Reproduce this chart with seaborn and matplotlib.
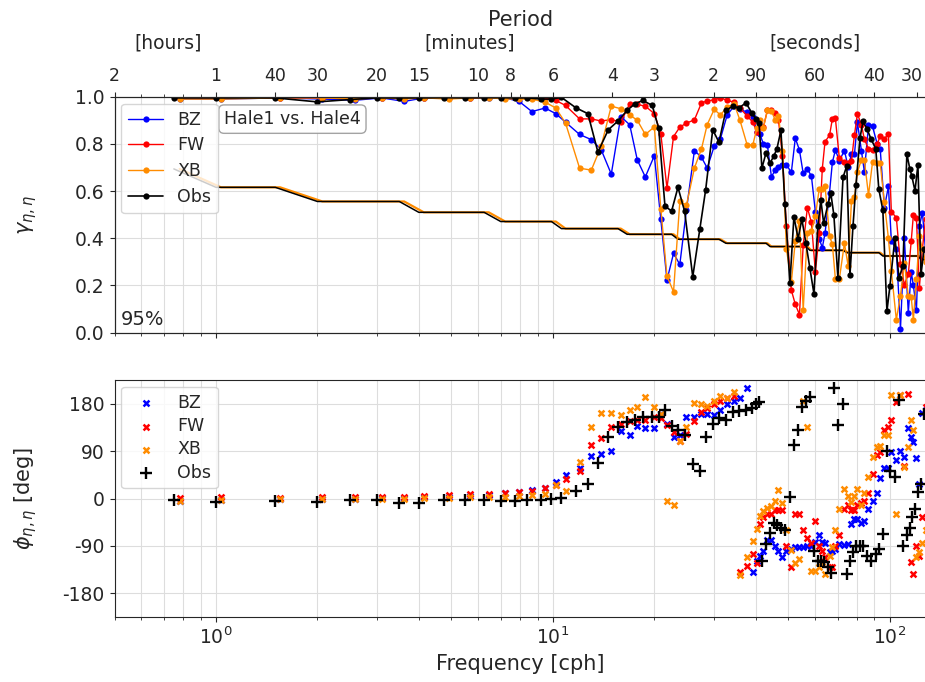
import matplotlib
matplotlib.use("Agg")
import matplotlib.pyplot as plt
from matplotlib.ticker import NullFormatter
from matplotlib.transforms import ScaledTranslation
import seaborn as sns
import numpy as np

# --- frequencies [cph] (obs and models sit on slightly different grids) ---
freq_obs = [0.75, 1.0, 1.5, 2.0, 2.5, 3.0, 3.5, 4.0, 4.75, 5.5, 6.25, 7.0, 7.7, 8.4, 9.2,
            9.9, 10.6, 11.7, 12.7, 13.6, 14.6, 15.6, 16.6, 17.5, 18.5, 19.7, 20.6, 21.5, 22.5,
            23.5, 24.6, 26.0, 27.3, 28.4, 29.8, 31.1, 32.6, 34.2, 35.6, 37.4, 38.9, 40.0, 40.9,
            41.7, 42.9, 44.1, 45.3, 46.2, 47.5, 48.8, 50.5, 51.9, 53.4, 54.8, 56.3, 57.9, 59.5,
            61.1, 62.4, 63.6, 65.5, 66.8, 68.2, 70.1, 72.6, 74.5, 76.1, 77.7, 79.3, 81.5, 83.2,
            85.5, 87.9, 90.8, 92.7, 95.3, 98.0, 100.0, 103.5, 106.4, 109.3, 112.3, 114.6, 116.2,
            118.7, 121.1, 123.7, 126.3]
freq_mod = [0.78, 1.035, 1.55, 2.07, 2.59, 3.1, 3.62, 4.14, 4.9, 5.68, 6.45, 7.22, 7.94, 8.66, 9.48,
            10.2, 10.9, 12.0, 13.0, 13.9, 14.9, 15.9, 16.9, 17.8, 18.8, 20.0, 20.9, 21.8, 22.8,
            23.8, 24.9, 26.3, 27.6, 28.7, 30.1, 31.4, 32.9, 34.5, 35.9, 37.7, 39.2, 40.3, 41.2,
            42.1, 43.3, 44.5, 45.7, 46.7, 48.0, 49.3, 51.0, 52.4, 53.9, 55.3, 56.9, 58.5, 60.1,
            61.7, 63.0, 64.2, 66.2, 67.5, 68.9, 70.8, 73.3, 75.2, 76.9, 78.5, 80.1, 82.3, 84.0,
            86.4, 88.8, 91.7, 93.6, 96.3, 99.0, 101.0, 104.5, 107.5, 110.4, 113.4, 115.7, 117.4,
            119.9, 122.3, 124.9, 127.6]

# --- coherence ---
obs_coh = [0.995, 0.995, 0.995, 0.978, 0.988, 0.995, 0.995, 0.995, 0.996, 0.995, 0.996, 0.996, 0.995, 0.995, 0.99,
           0.99, 0.997, 0.953, 0.928, 0.765, 0.86, 0.897, 0.942, 0.97, 0.984, 0.963, 0.867, 0.537, 0.515,
           0.616, 0.514, 0.237, 0.441, 0.606, 0.86, 0.807, 0.942, 0.96, 0.952, 0.974, 0.932, 0.906, 0.889,
           0.697, 0.762, 0.719, 0.75, 0.779, 0.857, 0.545, 0.209, 0.492, 0.399, 0.481, 0.382, 0.272, 0.166,
           0.45, 0.562, 0.464, 0.545, 0.59, 0.498, 0.233, 0.658, 0.708, 0.243, 0.45, 0.626, 0.824, 0.895,
           0.864, 0.821, 0.779, 0.609, 0.519, 0.091, 0.197, 0.403, 0.233, 0.282, 0.757, 0.694, 0.663,
           0.601, 0.711, 0.247, 0.353]
bz_coh = [0.99, 0.99, 0.995, 0.99, 0.985, 0.995, 0.98, 0.995, 0.995, 0.995, 0.995, 0.995, 0.98, 0.937, 0.952,
          0.928, 0.892, 0.84, 0.818, 0.776, 0.672, 0.916, 0.881, 0.732, 0.66, 0.75, 0.481, 0.223, 0.336,
          0.289, 0.52, 0.772, 0.743, 0.698, 0.79, 0.821, 0.923, 0.96, 0.946, 0.935, 0.914, 0.852, 0.84,
          0.80, 0.796, 0.661, 0.689, 0.70, 0.711, 0.711, 0.68, 0.824, 0.774, 0.675, 0.694, 0.663, 0.512,
          0.399, 0.36, 0.421, 0.594, 0.722, 0.774, 0.729, 0.772, 0.701, 0.757, 0.757, 0.892, 0.772, 0.682,
          0.878, 0.874, 0.8, 0.779, 0.53, 0.62, 0.389, 0.353, 0.016, 0.403, 0.084, 0.257, 0.2,
          0.098, 0.452, 0.509, 0.35]
fw_coh = [0.995, 0.995, 0.995, 0.995, 0.995, 0.995, 0.995, 0.995, 0.995, 0.995, 0.998, 0.998, 0.998, 0.995, 0.995,
          0.984, 0.963, 0.906, 0.906, 0.897, 0.903, 0.892, 0.97, 0.967, 0.96, 0.928, 0.843, 0.613, 0.831,
          0.871, 0.888, 0.902, 0.974, 0.982, 0.987, 0.996, 0.984, 0.977, 0.952, 0.918, 0.892, 0.85, 0.87,
          0.87, 0.942, 0.942, 0.93, 0.90, 0.75, 0.45, 0.18, 0.12, 0.077, 0.37, 0.53, 0.467, 0.257,
          0.421, 0.694, 0.81, 0.836, 0.906, 0.909, 0.739, 0.725, 0.719, 0.729, 0.838, 0.928, 0.881, 0.82,
          0.779, 0.776, 0.8, 0.833, 0.821, 0.843, 0.512, 0.488, 0.289, 0.204, 0.247, 0.389, 0.498,
          0.484, 0.19, 0.356, 0.481]
xb_coh = [0.99, 0.99, 0.995, 0.995, 0.99, 0.995, 0.99, 0.995, 0.99, 0.995, 0.995, 0.991, 0.99, 0.99, 0.977,
          0.952, 0.888, 0.697, 0.689, 0.79, 0.96, 0.949, 0.923, 0.9, 0.84, 0.872, 0.526, 0.24, 0.173,
          0.556, 0.54, 0.698, 0.779, 0.882, 0.946, 0.923, 0.956, 0.97, 0.9, 0.796, 0.796, 0.867, 0.9,
          0.867, 0.942, 0.94, 0.90, 0.92, 0.772, 0.356, 0.214, 0.389, 0.474, 0.095, 0.424, 0.43, 0.495,
          0.609, 0.61, 0.623, 0.41, 0.374, 0.228, 0.228, 0.379, 0.282, 0.559, 0.573, 0.68, 0.733, 0.73,
          0.583, 0.722, 0.72, 0.719, 0.552, 0.40, 0.261, 0.055, 0.157, 0.297, 0.155, 0.15, 0.055,
          0.226, 0.41, 0.353, 0.30]
# 95% significance level of coherence
sig_coh = [0.694, 0.616, 0.616, 0.556, 0.556, 0.556, 0.556, 0.51, 0.51, 0.51, 0.51, 0.471, 0.471, 0.471, 0.471,
           0.471, 0.441, 0.441, 0.441, 0.441, 0.441, 0.441, 0.417, 0.417, 0.417, 0.417, 0.417, 0.417, 0.417,
           0.396, 0.396, 0.396, 0.396, 0.396, 0.396, 0.396, 0.379, 0.379, 0.379, 0.379, 0.379, 0.379, 0.379,
           0.379, 0.379, 0.365, 0.365, 0.365, 0.365, 0.365, 0.365, 0.365, 0.365, 0.365, 0.365, 0.349, 0.349,
           0.349, 0.349, 0.349, 0.349, 0.349, 0.349, 0.349, 0.349, 0.339, 0.339, 0.339, 0.339, 0.339, 0.339,
           0.339, 0.339, 0.339, 0.339, 0.325, 0.325, 0.325, 0.325, 0.325, 0.325, 0.325, 0.325, 0.325,
           0.325, 0.325, 0.31, 0.31]

# --- phase [deg] ---
obs_ph = [-2, -7, -5, -7, -3, -3, -9, -8, -3, -2, -3,
          -4, -4, -2, -2, 0, 1, 15, 28, 67, 117, 135, 145, 149, 154, 155, 155, 168, 137, 131, 120,
          66, 52, 117, 142, 152, 150, 164, 166, 168, 171, 180, 184,
          -118, -86, -66, -47, -50, -56, -60, 2, 101, 131, 174, 185, 193, -99, -118, -118, -121, -130,
          -142, 209, 139, 180, -143, -118, -102, -90, -90, -90, -109, -118, -105, -96, -67, 91, 53, 40,
          187, -90, -70, -56, -36, -20, 12, 28, 161]
bz_ph = [-4, -3, -1, 0, 0, 1, 1, 2, 3, 4, 6,
         10, 12, 17, 20, 31, 45, 57, 80, 85, 90, 128, 120, 137, 133, 133, 160, 142, 116, 120, 155,
         155, 161, 160, 158, 169, 179, 185, 190, 209, -140, -119, -110,
         -99, -79, -79, -90, -100, -112, -100, -96, -93, -93, -93, -90, -90, -83, -69, -83, -85, -102,
         -100, -95, -86, -88, -86, -48, -39, -39, -47, -43, -20, -5, 10, 39, 58, 58, 88, 74, 90, 78,
         133, 116, 107, 76, 28, 163, 169]
fw_ph = [1, 2, 1, 2, 2, 3, 3, 4, 6, 8, 8,
         10, 12, 15, 20, 26, 37, 52, 102, 114, 136, 142, 148, 150, 150, 155, 152, 139, 126, 110, 123,
         147, 164, 171, 180, 185, 190, 195, -140, -128, -105, -123, -48,
         -36, -29, -29, -22, -22, -22, -90, -131, -30, -29, -60, -75, -85, -43, -90, -100, -112, -131,
         -131, -90, -69, -20, -13, -22, -22, -13, -9, -4, 10, 47, 82, 88, 130, 136, 150, 183, 196, 61,
         199, -121, -143, -90, -110, -36, 174]
xb_ph = [-4, -2, -1, -1, -1, 0, 0, 1, 1, 2, 3,
         3, 4, 6, 9, 25, 15, 69, 135, 163, 163, 158, 168, 174, 192, 174, 161, -4, -13, 110, 135,
         182, 179, 176, 185, 194, 190, 203, -145, -112, -80, -58, -34,
         -23, -18, -15, -5, 17, -9, -60, -98, -123, -115, 185, 136, -137, -137, -130, -121, -143, -110,
         -93, -60, -20, 18, 4, -7, 5, 18, -13, 10, 41, 79, 98, 99, 120, 120, 196, -30, 196, 60,
         98, 149, 130, -112, -102, -85, -60]

# --- period axis on top ---
period_freq = [0.5, 1, 1.5, 2, 3, 4, 6, 7.5, 10, 15, 20, 30, 40, 60, 90, 120]
period_labels = ['2', '1', '40', '30', '20', '15', '10', '8', '6', '4', '3', '2', '90', '60', '40', '30']

models = [('BZ', 'blue'), ('FW', 'red'), ('XB', 'darkorange')]
coh = {'BZ': bz_coh, 'FW': fw_coh, 'XB': xb_coh}
ph = {'BZ': bz_ph, 'FW': fw_ph, 'XB': xb_ph}

sns.set_style("ticks")
plt.rcParams['font.family'] = ['DejaVu Sans']
plt.rcParams['font.size'] = 13

fig = plt.figure(figsize=(9.25, 6.82), dpi=100)
ax1 = fig.add_axes([0.1238, 0.5122, 0.8773, 0.346])
ax2 = fig.add_axes([0.1238, 0.0953, 0.8773, 0.3475])
gridc = '#dddddd'

# ---- coherence panel ----
sns.lineplot(x=freq_mod, y=sig_coh, ax=ax1, color='darkorange', linewidth=1.6, zorder=1)
sns.lineplot(x=freq_obs, y=sig_coh, ax=ax1, color='black', linewidth=1.1, zorder=1)
for name, col in models:
    sns.lineplot(x=freq_mod, y=coh[name], ax=ax1, color=col, marker='o', markersize=4.5,
                 markeredgewidth=0, linewidth=1, label=name, zorder=2)
sns.lineplot(x=freq_obs, y=obs_coh, ax=ax1, color='black', marker='o', markersize=4.5,
             markeredgewidth=0, linewidth=1.2, label='Obs', zorder=3)

ax1.set_xscale('log')
ax1.set_xlim(0.5, 128)
ax1.set_ylim(0, 1)
ax1.set_yticks([0, 0.2, 0.4, 0.6, 0.8, 1.0])
ax1.tick_params(axis='x', which='both', labelbottom=False)
ax1.grid(True, which='both', axis='x', color=gridc, lw=0.8)
ax1.grid(True, which='major', axis='y', color=gridc, lw=0.8)
ax1.set_xlabel('')
ax1.set_ylabel(r'$\gamma_{\eta,\eta}$', fontsize=15)
ax1.yaxis.set_label_coords(-0.093, 0.5)
ax1.legend(loc='upper left', fontsize=12.5, handlelength=2, borderaxespad=0.4,
           labelspacing=0.45)
ax1.text(0.135, 0.905, 'Hale1 vs. Hale4', transform=ax1.transAxes, fontsize=12.5,
         ha='left', va='center',
         bbox=dict(boxstyle='round,pad=0.3', fc='white', ec='0.6', alpha=0.9))
ax1.text(0.008, 0.015, '95%', transform=ax1.transAxes, fontsize=14, ha='left', va='bottom')

# period axis
axt = ax1.twiny()
axt.set_xscale('log')
axt.set_xlim(ax1.get_xlim())
axt.set_xticks(period_freq)
axt.set_xticklabels(period_labels)
axt.xaxis.set_minor_formatter(NullFormatter())
axt.tick_params(axis='x', labelsize=12.5, pad=5)
axt.grid(False)
last = axt.get_xticklabels()[-1]
last.set_transform(last.get_transform() + ScaledTranslation(-0.05, 0, fig.dpi_scale_trans))
fig.text(521 / 925, 1 - 20 / 682, 'Period', ha='center', va='center', fontsize=15)
fig.text(168 / 925, 1 - 43 / 682, '[hours]', ha='center', va='center', fontsize=13.5)
fig.text(470 / 925, 1 - 43 / 682, '[minutes]', ha='center', va='center', fontsize=13.5)
fig.text(815 / 925, 1 - 43 / 682, '[seconds]', ha='center', va='center', fontsize=13.5)

# ---- phase panel ----
for name, col in models:
    sns.scatterplot(x=freq_mod, y=ph[name], ax=ax2, color=col, marker='x', s=18,
                    linewidth=1.8, label=name, zorder=2)
sns.scatterplot(x=freq_obs, y=obs_ph, ax=ax2, color='black', marker='+', s=80,
                linewidth=1.7, label='Obs', zorder=3)

ax2.set_xscale('log')
ax2.set_xlim(0.5, 128)
ax2.set_ylim(-225, 225)
ax2.set_yticks([-180, -90, 0, 90, 180])
ax2.set_yticklabels(['-180', '-90', '0', '90', '180'])
ax2.grid(True, which='both', axis='x', color=gridc, lw=0.8)
ax2.grid(True, which='major', axis='y', color=gridc, lw=0.8)
ax2.set_xlabel('Frequency [cph]', fontsize=15)
ax2.set_ylabel(r'$\phi_{\eta,\eta}$ [deg]', fontsize=15)
ax2.yaxis.set_label_coords(-0.093, 0.5)
ax2.legend(loc='upper left', fontsize=12.5, borderaxespad=0.4, labelspacing=0.3)

for ax in (ax1, ax2):
    ax.set_axisbelow(True)
    ax.tick_params(axis='both', labelsize=13.5)

fig.savefig('out.png', dpi=100)
